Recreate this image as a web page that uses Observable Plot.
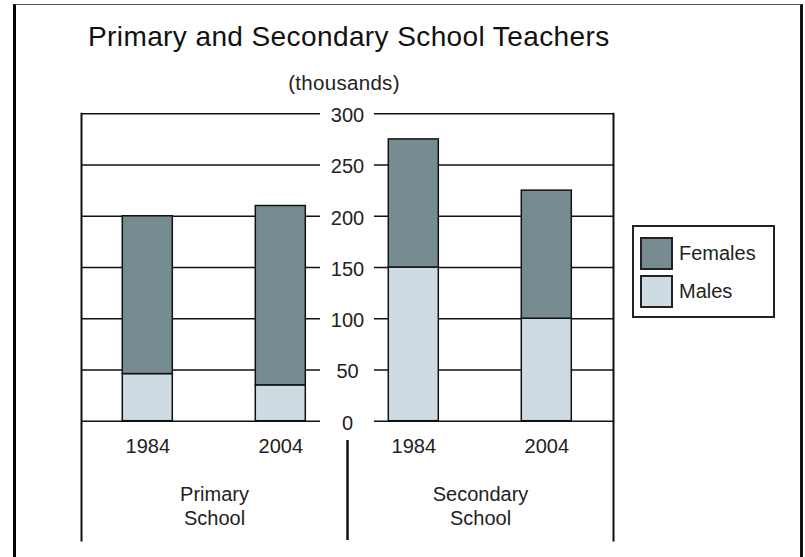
<!DOCTYPE html>
<html>
<head>
<meta charset="utf-8">
<script src="https://cdn.jsdelivr.net/npm/d3@7"></script>
<script src="https://cdn.jsdelivr.net/npm/@observablehq/plot@0.6"></script>
<style>
  html, body { margin: 0; padding: 0; background: #fff; }
  #page { position: relative; width: 805px; height: 557px; overflow: hidden; font-family: "Liberation Sans", Arial, sans-serif; }
  #border { position: absolute; left: 13px; top: 4px; width: 784px; height: 620px; border-left: 3px solid #000; border-right: 3px solid #111; border-top: 1px solid #555; }
  #title { position: absolute; left: 88px; top: 22px; font-size: 28px; letter-spacing: 0.4px; line-height: 30px; color: #111; white-space: nowrap; }
  #subtitle { position: absolute; left: 244px; width: 200px; top: 72px; text-align: center; font-size: 20.5px; letter-spacing: 0.3px; line-height: 22px; color: #222; }
  #chart { position: absolute; left: 0; top: 100px; }
  #legend { position: absolute; left: 632px; top: 225px; width: 139px; height: 89px; border: 2px solid #222; background: #fff; }
  .item { position: absolute; left: 6px; height: 32px; display: flex; align-items: center; }
  .sw { width: 29px; height: 29px; border: 2px solid #222; margin-right: 6px; }
  .lab { font-size: 20px; color: #222; }
</style>
</head>
<body>
<div id="page">
  <div id="border"></div>
  <div id="title">Primary and Secondary School Teachers</div>
  <div id="subtitle">(thousands)</div>
  <div id="chart"></div>
  <div id="legend"></div>
</div>
<script>
// ---- data ----
const groups = ["Primary School", "Secondary School"];
const years = ["1984", "2004"];
const series = ["Females", "Males"];
// values in order: Primary 1984, Primary 2004, Secondary 1984, Secondary 2004
const males = [46, 35, 150, 100];
const females = [154, 175, 125, 125];
const yTicks = [0, 50, 100, 150, 200, 250, 300];
const colors = ["#778c91", "#cfdbe2"]; // Females, Males

// ---- build table ----
const rows = [];
groups.forEach((g, gi) => {
  years.forEach((yr, yi) => {
    const k = gi * years.length + yi;
    rows.push({group: g, year: yr, sex: "Males", value: males[k]});
    rows.push({group: g, year: yr, sex: "Females", value: females[k]});
  });
});

// ---- layout ----
const W = 805, H = 450;
const mTop = 13.3, mBottom = 129.3, mLeft = 80.7, mRight = 191.7;
const gap = 27;                       // gap in the gridlines on each side of the labels
const extendDown = 119.3;             // frame lines run below the baseline
const dividerTop = 326.7;             // middle divider starts below the "0" label
const ink = "#111";
const font = "Liberation Sans, Arial, sans-serif";

const chart = Plot.plot({
  width: W,
  height: H,
  marginTop: mTop,
  marginBottom: mBottom,
  marginLeft: mLeft,
  marginRight: mRight,
  style: {fontFamily: font, fontSize: "20px", color: "#222", background: "transparent", overflow: "visible"},
  fx: {domain: groups, padding: 0},
  x: {domain: years, paddingInner: 0.624, paddingOuter: 0.312},
  y: {domain: [0, 300], axis: null},
  color: {domain: series, range: colors},
  marks: [
    // gridlines, left and right halves (gap in the middle for the labels)
    Plot.ruleY(yTicks, {fx: () => groups[0], y: d => d, insetRight: gap, stroke: ink, strokeWidth: 1.6}),
    Plot.ruleY(yTicks, {fx: () => groups[1], y: d => d, insetLeft: gap, stroke: ink, strokeWidth: 1.6}),
    // outer frame lines
    Plot.frame({facet: "super", anchor: "left", insetBottom: -extendDown, stroke: ink, strokeWidth: 2}),
    Plot.frame({facet: "super", anchor: "right", insetBottom: -extendDown, stroke: ink, strokeWidth: 2}),
    // middle divider below the axis
    Plot.ruleX([0], {facet: "super", x: null, insetTop: dividerTop, insetBottom: -extendDown, stroke: ink, strokeWidth: 2.5}),
    // y tick labels in the middle
    Plot.text(yTicks, {fx: () => groups[0], y: d => d, text: d => String(d), frameAnchor: "right", textAnchor: "middle", dy: 2, fontSize: 20, fill: "#222"}),
    // stacked bars
    Plot.barY(rows, {fx: "group", x: "year", y: "value", fill: "sex", stroke: ink, strokeWidth: 1.5}),
    // axes
    Plot.axisX({tickSize: 0, tickPadding: 18, fontSize: 20, fill: "#222", label: null}),
    Plot.axisFx({anchor: "bottom", tickSize: 0, tickPadding: 63, fontSize: 20, lineHeight: 1.2, fill: "#222", tickFormat: d => d.replace(" ", "\n"), label: null})
  ]
});
document.getElementById("chart").appendChild(chart);

// ---- legend ----
const color = chart.scale("color");
const legend = document.getElementById("legend");
series.forEach((s, i) => {
  const item = document.createElement("div");
  item.className = "item";
  item.style.top = (10 + i * 38.5) + "px";
  const sw = document.createElement("div");
  sw.className = "sw";
  sw.style.background = color.apply(s);
  const lab = document.createElement("span");
  lab.className = "lab";
  lab.textContent = s;
  item.appendChild(sw);
  item.appendChild(lab);
  legend.appendChild(item);
});
</script>
</body>
</html>
